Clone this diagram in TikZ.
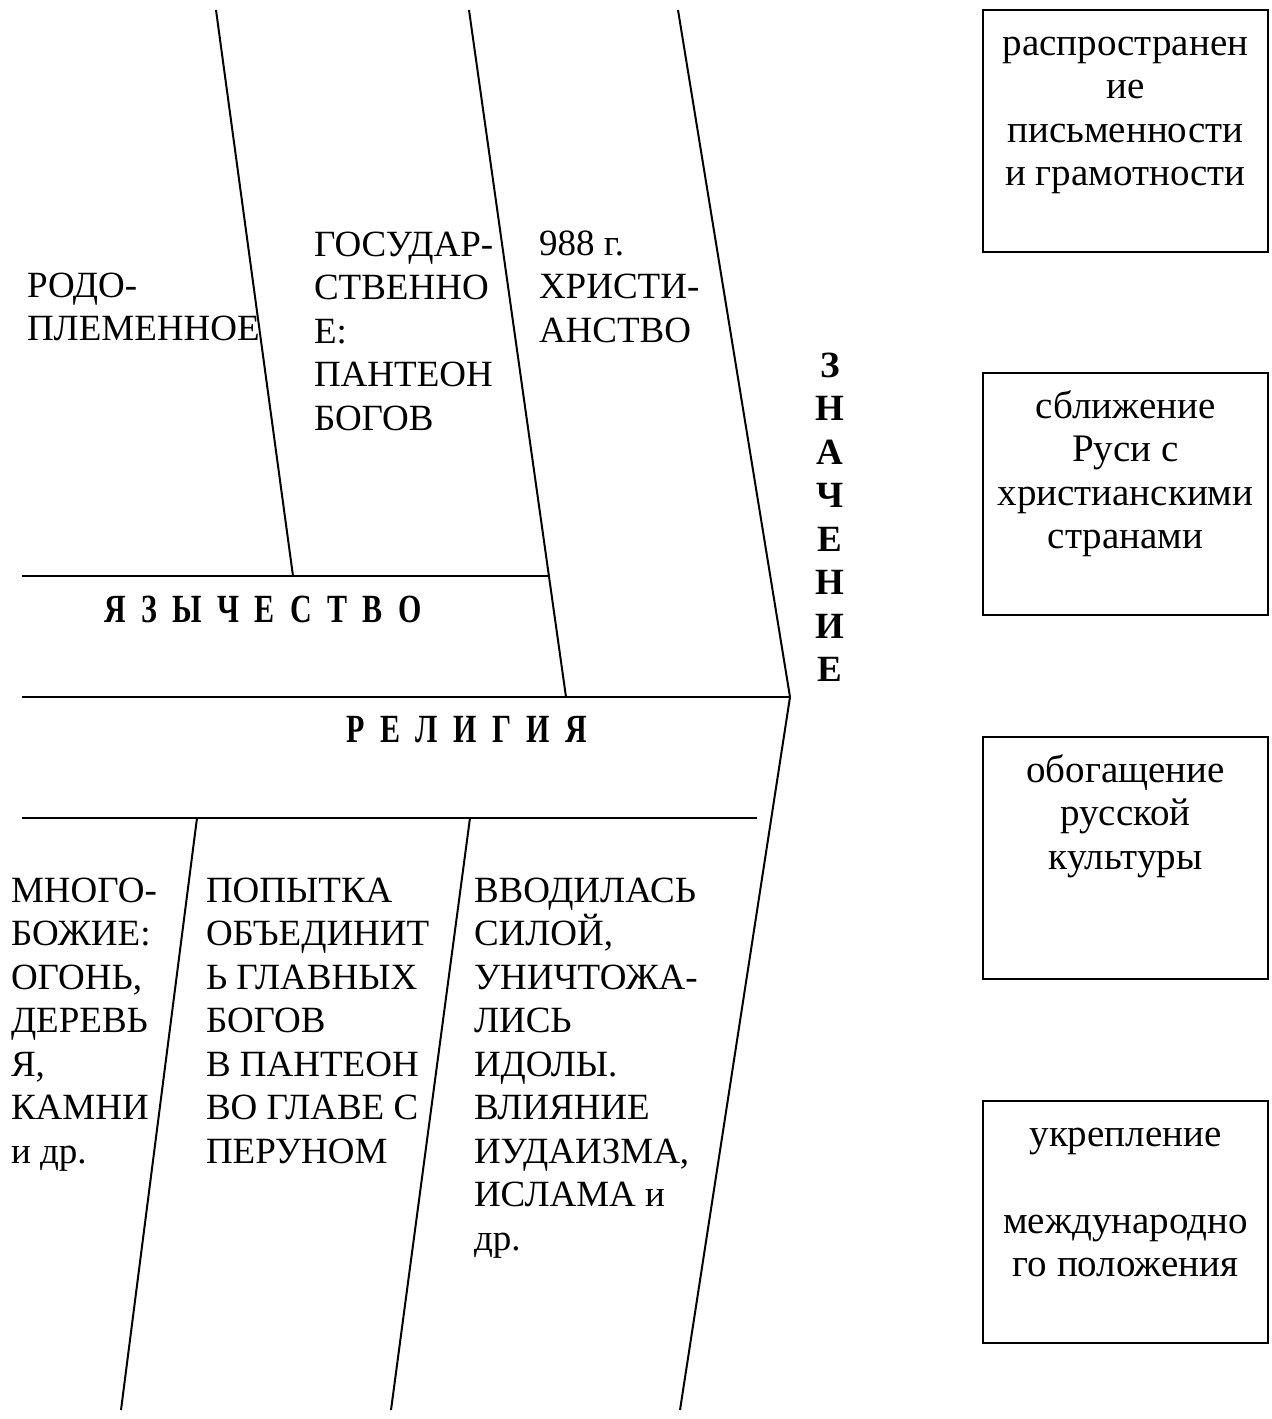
\documentclass[tikz,border=0pt]{standalone}
\usepackage{fontspec}
\setmainfont{Liberation Serif}
\newfontfamily\narrowbf[FakeStretch=0.75]{Liberation Serif}
\usetikzlibrary{positioning, calc}
\newcommand{\lsp}{\hspace{7.7pt}}

\begin{document}
\begin{tikzpicture}[x=0.5pt, y=-0.5pt, line width=1pt,
  txt/.style={anchor=base west, align=left, inner sep=0pt, font=\fontsize{18.5}{21.75}\selectfont},
  headtxt/.style={anchor=base, inner sep=0pt, font=\narrowbf\bfseries\fontsize{20}{24}\selectfont},
  box/.style={draw, minimum width=142.5pt, minimum height=121pt, inner sep=0pt},
  boxtxt/.style={anchor=base, align=center, inner sep=0pt, font=\fontsize{19.5}{21.75}\selectfont}]
  \useasboundingbox (0,0) rectangle (1271,1419);

  % upper bones
  \coordinate (u1top) at (216,10);
  \coordinate (u1bot) at (293,576);
  \coordinate (u2top) at (469,10);
  \coordinate (u2bot) at (566,697);
  \coordinate (u3top) at (678,10);
  \coordinate (head) at (790,697);
  \coordinate (pagL) at (22,576);
  \coordinate (pagR) at (549,576);
  \coordinate (spineL) at (22,697);
  \draw (u1top) -- (u1bot);
  \draw (u2top) -- (u2bot);
  \draw (u3top) -- (head);
  \draw (pagL) -- (pagR);
  \draw (spineL) -- (head);

  % lower bones
  \coordinate (tail) at (680,1410);
  \coordinate (lowL) at (22,818);
  \coordinate (lowR) at (757,818);
  \coordinate (l1top) at (197,818);
  \coordinate (l1bot) at (121,1410);
  \coordinate (l2top) at (470,818);
  \coordinate (l2bot) at (391,1410);
  \draw (head) -- (tail);
  \draw (lowL) -- (lowR);
  \draw (l1top) -- (l1bot);
  \draw (l2top) -- (l2bot);

  % upper labels (placed by the baseline of their last line)
  \node[txt] (rodo) at (26,340.5) {РОДО-\\ПЛЕМЕННОЕ};
  \node[txt] (gos) at (313,430) {ГОСУДАР-\\СТВЕННО\\Е:\\ПАНТЕОН\\БОГОВ};
  \node[txt] (christ) at (538,342) {988 г.\\ХРИСТИ-\\АНСТВО};

  % headings
  \node[headtxt] (pagan) at (263,622) {Я\lsp З\lsp Ы\lsp Ч\lsp Е\lsp С\lsp Т\lsp В\lsp О};
  \node[headtxt] (relig) at (467,742) {Р\lsp Е\lsp Л\lsp И\lsp Г\lsp И\lsp Я};
  \node[anchor=base, align=center, inner sep=0pt, font=\bfseries\fontsize{18.5}{21.75}\selectfont]
    (mean) at (830,681.5) {З\\Н\\А\\Ч\\Е\\Н\\И\\Е};

  % lower labels
  \node[txt] (poly) at (10,1163) {МНОГО-\\БОЖИЕ:\\ОГОНЬ,\\ДЕРЕВЬ\\Я,\\КАМНИ\\и др.};
  \node[txt] (unite) at (205,1163) {ПОПЫТКА\\ОБЪЕДИНИТ\\Ь ГЛАВНЫХ\\БОГОВ\\В ПАНТЕОН\\ВО ГЛАВЕ С\\ПЕРУНОМ};
  \node[txt] (force) at (473,1250) {ВВОДИЛАСЬ\\СИЛОЙ,\\УНИЧТОЖА-\\ЛИСЬ\\ИДОЛЫ.\\ВЛИЯНИЕ\\ИУДАИЗМА,\\ИСЛАМА и\\др.};

  % results
  \node[box] (b1) at (1125.5,131) {};
  \node[boxtxt] (t1) at ($(b1.north)+(0,176.5)$) {распространен\\ие\\письменности\\и грамотности};
  \node[box] (b2) at (1125.5,494) {};
  \node[boxtxt] (t2) at ($(b2.north)+(0,176.5)$) {сближение\\Руси с\\христианскими\\странами};
  \node[box] (b3) at (1125.5,858) {};
  \node[boxtxt] (t3) at ($(b3.north)+(0,133)$) {обогащение\\русской\\культуры};
  \node[box] (b4) at (1125.5,1222) {};
  \node[boxtxt] (t4) at ($(b4.north)+(0,176.5)$) {укрепление\\[21.75pt]международно\\го положения};
\end{tikzpicture}
\end{document}
